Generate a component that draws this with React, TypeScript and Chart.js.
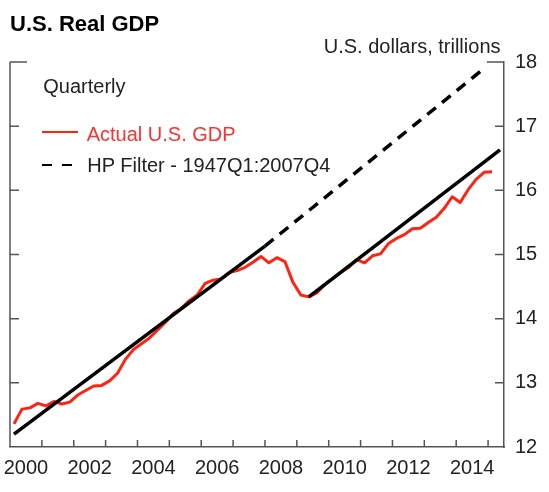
import React, { useEffect, useRef } from 'react';
import { Chart, registerables } from 'chart.js';

Chart.register(...registerables);

// quarterly real GDP, trillions of dollars, 2000Q1..2015Q1
const quarters = Array.from({ length: 61 }, (_, i) => `${2000 + Math.floor(i / 4)}Q${(i % 4) + 1}`);
const gdpValues = [
  12.36, 12.59, 12.61, 12.68,
  12.64, 12.71, 12.67, 12.70,
  12.81, 12.88, 12.95, 12.96,
  13.03, 13.15, 13.37, 13.52,
  13.61, 13.70, 13.82, 13.94,
  14.08, 14.16, 14.28, 14.37,
  14.55, 14.60, 14.62, 14.72,
  14.75, 14.80, 14.88, 14.97,
  14.87, 14.95, 14.89, 14.57,
  14.37, 14.34, 14.40, 14.53,
  14.62, 14.72, 14.80, 14.92,
  14.87, 14.98, 15.01, 15.17,
  15.25, 15.31, 15.40, 15.41,
  15.50, 15.58, 15.72, 15.90,
  15.81, 16.01, 16.17, 16.28,
  16.29,
];

// HP trend (fitted part, then extrapolation) and the post-trough trend, x in years
const hpFitYears = [2000.125, 2008];
const hpFitValues = [12.2, 15.13];
const hpExtYears = [2008, 2014.8];
const hpExtValues = [15.13, 17.87];
const recoveryYears = [2009.375, 2015.375];
const recoveryValues = [14.34, 16.63];

const tickYears = [2001, 2002, 2003, 2004, 2005, 2006, 2007, 2008, 2009, 2010, 2011, 2012, 2013, 2014, 2015];
const labelYears = [2000, 2002, 2004, 2006, 2008, 2010, 2012, 2014];
const yTicks = [12, 13, 14, 15, 16, 17, 18];

// quarters are plotted at mid-quarter
const quarterToYear = (q: string) => Number(q.slice(0, 4)) + (Number(q.slice(5)) - 0.5) / 4;
const toPoints = (xs: number[], ys: number[]) => xs.map((x, i) => ({ x, y: ys[i] }));

const AXIS = '#555';
const TEXT = '#222';
const RED = '#ff2412';
const FONT = '"Liberation Sans", Arial, sans-serif';

// frame pieces the default axes can't do: inward ticks, left line, top brackets
const framePlugin = {
  id: 'frame',
  afterDatasetsDraw(chart: any) {
    const { ctx, chartArea, scales } = chart;
    const { left, right, top, bottom } = chartArea;
    ctx.save();
    ctx.strokeStyle = AXIS;
    ctx.lineWidth = 1.5;
    ctx.beginPath();
    ctx.moveTo(left, top);
    ctx.lineTo(left, bottom);
    ctx.moveTo(left, top);
    ctx.lineTo(left + 17, top);
    ctx.moveTo(right - 17, top);
    ctx.lineTo(right, top);
    yTicks.slice(1, -1).forEach((v) => {
      const y = scales.y.getPixelForValue(v);
      ctx.moveTo(left, y);
      ctx.lineTo(left + 9, y);
      ctx.moveTo(right - 9, y);
      ctx.lineTo(right, y);
    });
    tickYears.forEach((yr) => {
      const x = scales.x.getPixelForValue(yr);
      ctx.moveTo(x, bottom);
      ctx.lineTo(x, bottom - 7);
    });
    ctx.stroke();
    ctx.restore();
  },
};

const GdpChart: React.FC = () => {
  const chartRef = useRef<HTMLCanvasElement>(null);
  const chartInstance = useRef<Chart | null>(null);

  useEffect(() => {
    if (!chartRef.current) return;
    if (chartInstance.current) chartInstance.current.destroy();

    chartInstance.current = new Chart(chartRef.current, {
      type: 'line',
      data: {
        datasets: [
          {
            label: 'HP Filter - 1947Q1:2007Q4',
            data: toPoints(hpFitYears, hpFitValues),
            borderColor: '#000',
            borderWidth: 3.5,
          },
          {
            label: 'HP extrapolation',
            data: toPoints(hpExtYears, hpExtValues),
            borderColor: '#000',
            borderWidth: 3.5,
            borderDash: [11, 8],
          },
          {
            label: 'Recovery trend',
            data: toPoints(recoveryYears, recoveryValues),
            borderColor: '#000',
            borderWidth: 3.5,
          },
          {
            label: 'Actual U.S. GDP',
            data: quarters.map((q, i) => ({ x: quarterToYear(q), y: gdpValues[i] })),
            borderColor: RED,
            borderWidth: 3,
          },
        ],
      },
      options: {
        animation: false,
        responsive: false,
        maintainAspectRatio: false,
        layout: { padding: { left: 10, top: 62, right: 0, bottom: 0 } },
        elements: {
          point: { radius: 0, hoverRadius: 0 },
          line: { tension: 0, borderCapStyle: 'butt', borderJoinStyle: 'round' },
        },
        plugins: { legend: { display: false }, tooltip: { enabled: false } },
        scales: {
          x: {
            type: 'linear',
            min: 2000,
            max: 2015.5,
            grid: { display: false, drawTicks: false },
            border: { display: true, color: AXIS, width: 1.5 },
            afterBuildTicks: (scale: any) => {
              scale.ticks = labelYears.map((yr) => ({ value: yr + 0.5 }));
            },
            afterFit: (scale: any) => {
              scale.height = 45;
              // labels stay inside the frame margins, no extra side padding
              scale.paddingLeft = 0;
              scale.paddingRight = 0;
            },
            ticks: {
              autoSkip: false,
              maxRotation: 0,
              padding: 9,
              color: TEXT,
              font: { family: FONT, size: 20 },
              callback: (v: any) => String(Math.floor(Number(v))),
            },
          },
          y: {
            type: 'linear',
            position: 'right',
            min: 12,
            max: 18,
            grid: { display: false, drawTicks: false },
            border: { display: true, color: AXIS, width: 1.5 },
            afterBuildTicks: (scale: any) => {
              scale.ticks = yTicks.map((v) => ({ value: v }));
            },
            afterFit: (scale: any) => {
              scale.width = 45;
              scale.paddingTop = 0;
              scale.paddingBottom = 0;
            },
            ticks: {
              padding: 11,
              color: TEXT,
              font: { family: FONT, size: 20 },
            },
          },
        },
      },
      plugins: [framePlugin],
    });

    return () => {
      if (chartInstance.current) {
        chartInstance.current.destroy();
        chartInstance.current = null;
      }
    };
  }, []);

  const text: React.CSSProperties = {
    position: 'absolute',
    fontFamily: FONT,
    fontSize: 20,
    lineHeight: '20px',
    color: TEXT,
    whiteSpace: 'nowrap',
  };

  const swatch = (left: number, top: number, width: number, color: string): React.CSSProperties => ({
    position: 'absolute',
    left,
    top,
    width,
    height: 2,
    background: color,
  });

  return (
    <div style={{ position: 'absolute', left: 0, top: 0, width: 549, height: 492, background: '#fff' }}>
      <canvas ref={chartRef} width={549} height={492} style={{ position: 'absolute', left: 0, top: 0 }} />
      <div style={{ ...text, left: 10, top: 12.9, fontSize: 22, lineHeight: '22px', fontWeight: 'bold', color: '#000' }}>
        U.S. Real GDP
      </div>
      <div style={{ ...text, right: 48.5, top: 35.8 }}>U.S. dollars, trillions</div>
      <div style={{ ...text, left: 43.3, top: 76.4 }}>Quarterly</div>
      {/* legend */}
      <div style={swatch(41.7, 131, 36.6, RED)} />
      <div style={{ ...text, left: 86.7, top: 123.8, color: '#ff3030' }}>Actual U.S. GDP</div>
      <div style={swatch(41.7, 164.3, 10, '#000')} />
      <div style={swatch(61.7, 164.3, 10, '#000')} />
      <div style={{ ...text, left: 87.3, top: 154.8 }}>HP Filter - 1947Q1:2007Q4</div>
    </div>
  );
};

export default function App() {
  return <GdpChart />;
}
